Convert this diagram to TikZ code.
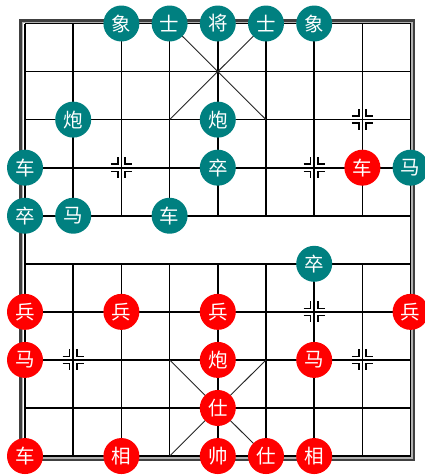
\documentclass[tikz,border=0pt]{standalone}
\usepackage{fontspec}
\newfontfamily\cjk{Noto Sans CJK SC}
\definecolor{tealpc}{RGB}{0,128,128}
\definecolor{redpc}{RGB}{255,0,0}
\tikzset{
  piece/.style={circle, minimum size=36pt, inner sep=0pt, text=white,
    font=\cjk\fontsize{19.5}{19.5}\selectfont},
  blk/.style={piece, fill=tealpc},
  rd/.style={piece, fill=redpc},
  gridline/.style={line width=1.7pt, black},
  diagline/.style={line width=0.9pt, black!85},
  starline/.style={line width=1.5pt, black},
  frameout/.style={line width=2.2pt, black!75},
  framemid/.style={line width=1.2pt, black!30},
}
\begin{document}
\begin{tikzpicture}[x=1pt,y=-1pt]
\useasboundingbox (0,0) rectangle (425,475);
\fill[white] (0,0) rectangle (425,475);
% grid coordinates
\foreach \i in {0,...,8} {
  \foreach \j in {0,...,9} {
    \coordinate (g\i-\j) at ({25+48.2*\i},{23.5+48.06*\j});
  }
}
% frame
\coordinate (fo1) at (20.5,20.5);
\coordinate (fo2) at (413.8,459.8);
\coordinate (fm1) at (22.6,22.4);
\coordinate (fm2) at (412,457.9);
\draw[frameout] (fo1) rectangle (fo2);
\draw[framemid] (fm1) rectangle (fm2);
% horizontal lines
\foreach \j in {0,...,9} { \draw[gridline] (g0-\j) -- (g8-\j); }
% vertical lines
\draw[gridline] (g0-0) -- (g0-9);
\draw[gridline] (g8-0) -- (g8-9);
\foreach \i in {1,...,7} {
  \draw[gridline] (g\i-0) -- (g\i-4);
  \draw[gridline] (g\i-5) -- (g\i-9);
}
% palace diagonals
\draw[diagline] (g3-0) -- (g5-2);
\draw[diagline] (g5-0) -- (g3-2);
\draw[diagline] (g3-7) -- (g5-9);
\draw[diagline] (g5-7) -- (g3-9);
% position marks
\foreach \p in {g2-3,g7-2,g6-3,g1-7,g6-6,g7-7} {
  \foreach \sx in {-1,1} {
    \foreach \sy in {-1,1} {
      \draw[starline] ([shift={(\sx*10.5,\sy*3.6)}]\p) -- ([shift={(\sx*3.6,\sy*3.6)}]\p) -- ([shift={(\sx*3.6,\sy*10.5)}]\p);
    }
  }
}
% black pieces
\node[blk] (bx1) at (g2-0) {象};
\node[blk] (bs1) at (g3-0) {士};
\node[blk] (bj)  at (g4-0) {将};
\node[blk] (bs2) at (g5-0) {士};
\node[blk] (bx2) at (g6-0) {象};
\node[blk] (bp1) at (g1-2) {炮};
\node[blk] (bp2) at (g4-2) {炮};
\node[blk] (bc1) at (g0-3) {车};
\node[blk] (bz1) at (g4-3) {卒};
\node[blk] (bm1) at (g8-3) {马};
\node[blk] (bz2) at (g0-4) {卒};
\node[blk] (bm2) at (g1-4) {马};
\node[blk] (bc2) at (g3-4) {车};
\node[blk] (bz3) at (g6-5) {卒};
% red pieces
\node[rd] (rc1) at (g7-3) {车};
\node[rd] (rb1) at (g0-6) {兵};
\node[rd] (rb2) at (g2-6) {兵};
\node[rd] (rb3) at (g4-6) {兵};
\node[rd] (rb4) at (g8-6) {兵};
\node[rd] (rm1) at (g0-7) {马};
\node[rd] (rp1) at (g4-7) {炮};
\node[rd] (rm2) at (g6-7) {马};
\node[rd] (rs1) at (g4-8) {仕};
\node[rd] (rc2) at (g0-9) {车};
\node[rd] (rx1) at (g2-9) {相};
\node[rd] (rsh) at (g4-9) {帅};
\node[rd] (rs2) at (g5-9) {仕};
\node[rd] (rx2) at (g6-9) {相};
\end{tikzpicture}
\end{document}
